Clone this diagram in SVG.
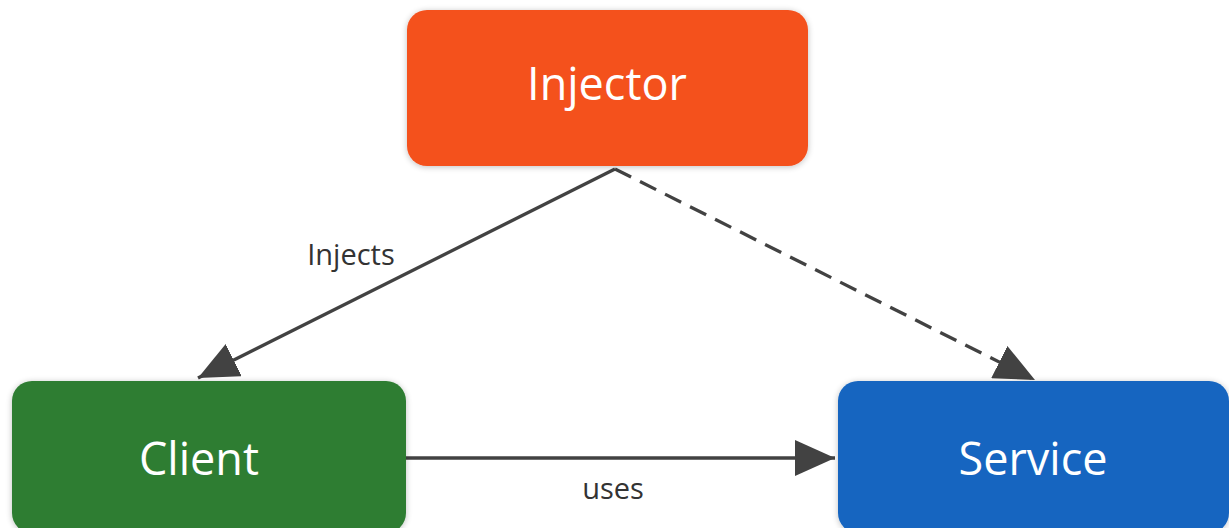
<svg xmlns="http://www.w3.org/2000/svg" width="1229" height="528" viewBox="0 0 1229 528">
  <defs>
    <filter id="sh" x="-10%" y="-10%" width="120%" height="130%">
      <feGaussianBlur in="SourceAlpha" stdDeviation="3"/>
      <feOffset dx="0" dy="1" result="b"/>
      <feComponentTransfer><feFuncA type="linear" slope="0.25"/></feComponentTransfer>
      <feMerge><feMergeNode/><feMergeNode in="SourceGraphic"/></feMerge>
    </filter>
    <marker id="arr" viewBox="0 0 40 36" refX="40" refY="18" markerWidth="40" markerHeight="36" markerUnits="userSpaceOnUse" orient="auto">
      <path d="M0,0 L40,18 L0,36 Z" fill="#424242"/>
    </marker>
  </defs>
  <style>
    .node text { font-family: "Open Sans", "Noto Sans", sans-serif; font-size: 45px; fill: #ffffff; text-anchor: middle; }
    .edge { stroke: #424242; stroke-width: 3.3; fill: none; stroke-linejoin: miter; }
    .lbl { font-family: "Open Sans", "Noto Sans", sans-serif; font-size: 29px; fill: #333333; text-anchor: middle; }
  </style>
  <rect width="1229" height="528" fill="#ffffff"/>
  <g id="connectors">
    <line class="edge" x1="615" y1="169" x2="198" y2="378" marker-end="url(#arr)"/>
    <line class="edge" x1="615" y1="169" x2="1035" y2="380" stroke-dasharray="18,10" marker-end="url(#arr)"/>
    <line class="edge" x1="405" y1="458" x2="835" y2="458" marker-end="url(#arr)"/>
    <text class="lbl" x="351" y="265">Injects</text>
    <text class="lbl" x="613" y="499">uses</text>
  </g>
  <g id="injector" class="node">
    <rect x="407" y="10" width="401" height="156" rx="20" fill="#F4511E" filter="url(#sh)"/>
    <text x="607" y="100">Injector</text>
  </g>
  <g id="client" class="node">
    <rect x="12" y="381" width="394" height="152" rx="20" fill="#2E7D32" filter="url(#sh)"/>
    <text x="199" y="475">Client</text>
  </g>
  <g id="service" class="node">
    <rect x="838" y="381" width="391" height="152" rx="20" fill="#1565C0" filter="url(#sh)"/>
    <text x="1033" y="475">Service</text>
  </g>
</svg>
